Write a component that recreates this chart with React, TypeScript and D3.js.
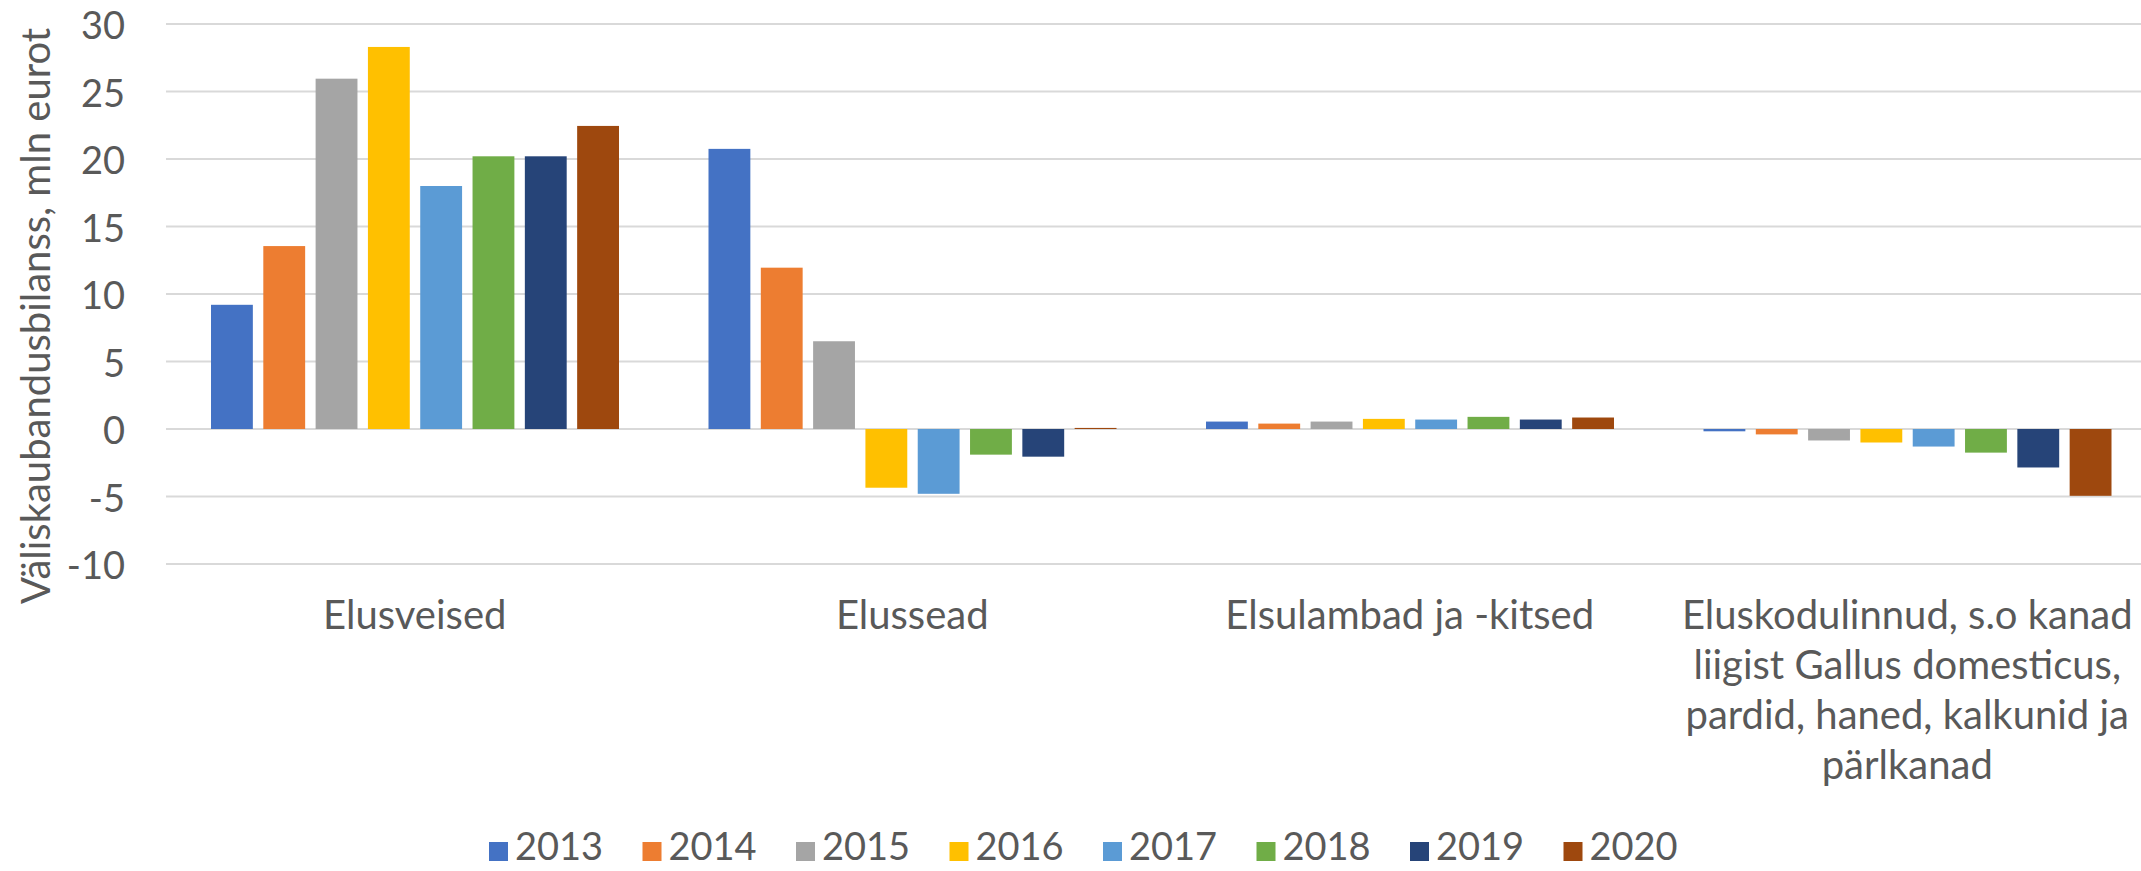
import React from "react";
import * as d3 from "d3";

const categoryLines: string[][] = [
  ["Elusveised"],
  ["Elussead"],
  ["Elsulambad ja -kitsed"],
  ["Eluskodulinnud, s.o kanad", "liigist Gallus domesticus,", "pardid, haned, kalkunid ja", "pärlkanad"],
];
const categories = categoryLines.map((l) => l.join(" "));

const years = ["2013", "2014", "2015", "2016", "2017", "2018", "2019", "2020"];
const colors = ["#4472C4", "#ED7D31", "#A5A5A5", "#FFC000", "#5B9BD5", "#70AD47", "#264478", "#9E480E"];

const v2013 = [9.2, 20.75, 0.55, -0.17];
const v2014 = [13.55, 11.95, 0.4, -0.4];
const v2015 = [25.95, 6.5, 0.55, -0.85];
const v2016 = [28.3, -4.35, 0.75, -1.0];
const v2017 = [18.0, -4.8, 0.7, -1.3];
const v2018 = [20.2, -1.9, 0.9, -1.75];
const v2019 = [20.2, -2.05, 0.7, -2.85];
const v2020 = [22.45, 0.08, 0.85, -4.95];
const series = [v2013, v2014, v2015, v2016, v2017, v2018, v2019, v2020];

const yTicks = [-10, -5, 0, 5, 10, 15, 20, 25, 30];
const yTitle = "Väliskaubandusbilanss, mln eurot";

const W = 2141;
const H = 871;
const FONT = "Lato, 'Noto Sans', sans-serif";
const TEXT = "#595959";

export default function App() {
  const x0 = d3.scaleBand<string>().domain(categories).range([166, 2156]).padding(0);
  const x1 = d3.scaleBand<string>().domain(years).range([45, 453]).paddingInner(0.2).paddingOuter(0);
  const y = d3.scaleLinear().domain([-10, 30]).range([564, 24]);
  const legendX = d3.scalePoint<string>().domain(years).range([489, 489 + 7 * 153.5]);

  return (
    <div style={{ position: "absolute", left: 0, top: 0 }}>
      <svg width={W} height={H} style={{ display: "block", background: "#fff" }}>
        <rect x={0} y={0} width={W} height={H} fill="#fff" />
        {yTicks.map((t) => (
          <line key={"g" + t} x1={166} x2={2156} y1={y(t)} y2={y(t)} stroke="#D9D9D9" strokeWidth={2} />
        ))}
        {yTicks.map((t) => (
          <text key={"t" + t} x={125} y={y(t) + 15} textAnchor="end" fontFamily={FONT} fontSize={38} fill={TEXT}>
            {t}
          </text>
        ))}
        <text transform={`translate(50,316) rotate(-90)`} textAnchor="middle" fontFamily={FONT} fontSize={40} fill={TEXT}>
          {yTitle}
        </text>
        {categories.map((c, ci) => (
          <g key={c} transform={`translate(${x0(c)},0)`}>
            {years.map((yr, si) => {
              const v = series[si][ci];
              const top = y(Math.max(0, v));
              const bottom = y(Math.min(0, v));
              return (
                <rect
                  key={yr}
                  x={x1(yr)}
                  y={top}
                  width={x1.bandwidth()}
                  height={Math.max(0.5, bottom - top)}
                  fill={colors[si]}
                />
              );
            })}
          </g>
        ))}
        {categories.map((c, ci) => (
          <text
            key={"l" + c}
            x={(x0(c) as number) + x0.bandwidth() / 2}
            y={629}
            textAnchor="middle"
            fontFamily={FONT}
            fontSize={40}
            fill={TEXT}
          >
            {categoryLines[ci].map((line, li) => (
              <tspan key={li} x={(x0(c) as number) + x0.bandwidth() / 2} dy={li === 0 ? 0 : 50}>
                {line}
              </tspan>
            ))}
          </text>
        ))}
        {years.map((yr, si) => (
          <g key={"lg" + yr} transform={`translate(${legendX(yr)},842)`}>
            <rect x={0} y={0} width={19} height={19} fill={colors[si]} />
            <text x={26} y={18} fontFamily={FONT} fontSize={38} fill={TEXT}>
              {yr}
            </text>
          </g>
        ))}
      </svg>
    </div>
  );
}
